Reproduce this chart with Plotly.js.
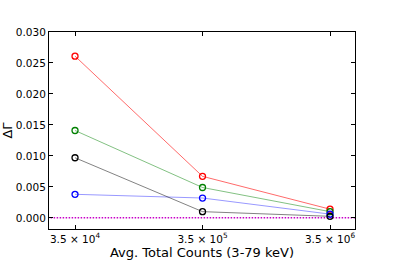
<!DOCTYPE html>
<html><head><meta charset="utf-8">
<script src="https://cdn.plot.ly/plotly-3.0.1.min.js"></script>
<style>html,body{margin:0;padding:0;background:#fff;}</style>
</head><body>
<div id="chart" style="width:395px;height:263px;"></div>
<script>
const counts = [3.5e4, 3.5e5, 3.5e6];
const tickLabels = ['3.5 × 10<sup>4</sup>', '3.5 × 10<sup>5</sup>', '3.5 × 10<sup>6</sup>'];
const seriesRed = [0.0261, 0.0067, 0.0014];
const seriesGreen = [0.0141, 0.0049, 0.0010];
const seriesBlue = [0.0038, 0.0032, 0.0006];
const seriesBlack = [0.0097, 0.0010, 0.00025];
const zeroLine = [0, 0];
const zeroX = [1e4, 1e7];

function tr(y, lineColor, markerColor) {
  return {
    x: counts, y: y, mode: 'lines+markers', type: 'scatter',
    line: {color: lineColor, width: 0.9},
    marker: {symbol: 'circle-open', size: 6, color: markerColor, line: {width: 1.3, color: markerColor}},
    showlegend: false, cliponaxis: false
  };
}
const data = [
  {x: zeroX, y: zeroLine, mode: 'lines', type: 'scatter', line: {color: '#c800c8', width: 1.5, dash: '1.5px,1.5px'}, showlegend: false},
  tr(seriesRed, 'rgba(255,0,0,0.65)', '#ff0000'),
  tr(seriesGreen, 'rgba(0,128,0,0.55)', '#008000'),
  tr(seriesBlue, 'rgba(0,0,255,0.45)', '#0000ff'),
  tr(seriesBlack, 'rgba(0,0,0,0.55)', '#000000')
];
const layout = {
  width: 395, height: 263,
  margin: {l: 49, r: 40, t: 32, b: 34, pad: 0},
  paper_bgcolor: '#fff', plot_bgcolor: '#fff',
  font: {family: 'DejaVu Sans', size: 10.5, color: '#000'},
  xaxis: {
    type: 'log', range: [4.340, 6.740],
    tickvals: counts, ticktext: tickLabels,
    ticks: 'inside', ticklen: 4, tickwidth: 1, tickcolor: '#000',
    showline: true, linecolor: '#000', linewidth: 1, mirror: 'ticks',
    showgrid: false, zeroline: false,
    tickfont: {family: 'DejaVu Sans', size: 10.5, color: '#000'},
    title: {text: 'Avg. Total Counts (3-79 keV)', font: {family: 'DejaVu Sans', size: 13, color: '#000'}, standoff: 2}
  },
  yaxis: {
    range: [-0.0018, 0.030],
    tickvals: [0, 0.005, 0.01, 0.015, 0.02, 0.025, 0.03],
    ticktext: ['0.000', '0.005', '0.010', '0.015', '0.020', '0.025', '0.030'],
    ticks: 'inside', ticklen: 4, tickwidth: 1, tickcolor: '#000',
    showline: true, linecolor: '#000', linewidth: 1, mirror: 'ticks',
    showgrid: false, zeroline: false,
    tickfont: {family: 'DejaVu Sans', size: 10.5, color: '#000'},
    title: {text: 'ΔΓ', font: {family: 'DejaVu Sans', size: 13, color: '#000'}, standoff: 2}
  }
};
Plotly.newPlot('chart', data, layout, {staticPlot: true, displayModeBar: false});
</script>
</body></html>
